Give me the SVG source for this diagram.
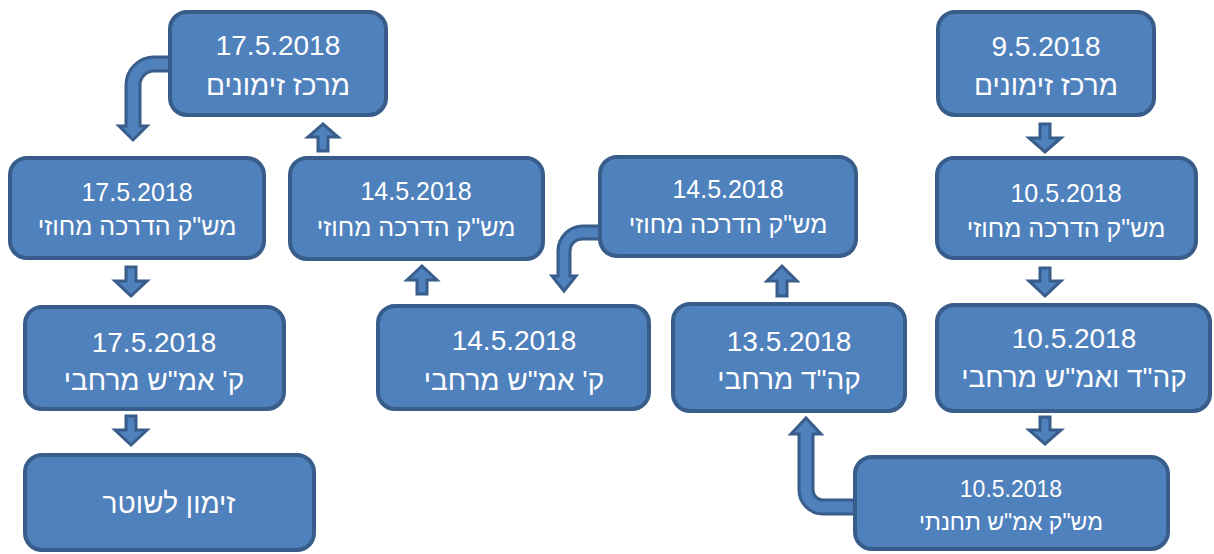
<svg xmlns="http://www.w3.org/2000/svg" width="1214" height="554" viewBox="0 0 1214 554">
<style>
.box{fill:#4F81BD;stroke:#385D8A;stroke-width:4}
.arr{fill:#4F81BD;stroke:#385D8A;stroke-width:3;stroke-linejoin:miter}
text{font-family:"Liberation Sans",Arial,sans-serif;fill:#FFFFFF;text-anchor:middle}
.l{font-size:28px}
.m{font-size:25px}
.s{font-size:23px}
</style>
<rect width="1214" height="554" fill="#FFFFFF"/>
<g id="connectors">
<path class="arr" d="M175,57 H154 A28,28 0 0 0 126,85 V126 H119 L133,140 L147,126 H140 V85 A14,14 0 0 1 154,71 H175 Z"/>
<path class="arr" d="M605,226 H583 A25,25 0 0 0 558,251 V276 H552 L564,291 L576,276 H570 V251 A12,12 0 0 1 582,239 H605 Z"/>
<path class="arr" d="M860,514 H823 A24,24 0 0 1 799,490 V434 H791 L806,418 L821,434 H813 V490 A10,10 0 0 0 823,500 H860 Z"/>
<path class="arr" d="M1040,124 V138 H1029 L1045,152 L1061,138 H1050 V124 Z"/>
<path class="arr" d="M1040,268 V281 H1029 L1045,296 L1061,281 H1050 V268 Z"/>
<path class="arr" d="M1040,417 V430 H1029 L1045,444 L1061,430 H1050 V417 Z"/>
<path class="arr" d="M126,267 V281 H115 L131,296 L147,281 H136 V267 Z"/>
<path class="arr" d="M126,416 V430 H115 L131,445 L147,430 H136 V416 Z"/>
<path class="arr" d="M417,294 V280 H407 L422,266 L437,280 H427 V294 Z"/>
<path class="arr" d="M777,296 V281 H767 L782,266 L797,281 H787 V296 Z"/>
<path class="arr" d="M318,151 V137 H308 L323,124 L338,137 H328 V151 Z"/>
</g>
<g id="n1"><rect class="box" x="170" y="12" width="216" height="103" rx="17"/><text class="l" x="278" y="55">17.5.2018</text><text class="l" x="278" y="95" direction="rtl">מרכז זימונים</text></g>
<g id="n2"><rect class="box" x="938" y="12" width="216" height="103" rx="17"/><text class="l" x="1046" y="56">9.5.2018</text><text class="l" x="1046" y="95" direction="rtl">מרכז זימונים</text></g>
<g id="n3"><rect class="box" x="10" y="158" width="254" height="100" rx="17"/><text class="m" x="137" y="201">17.5.2018</text><text class="m" x="137" y="235" direction="rtl">מש"ק הדרכה מחוזי</text></g>
<g id="n4"><rect class="box" x="290" y="158" width="253" height="101" rx="17"/><text class="m" x="416" y="200">14.5.2018</text><text class="m" x="416" y="236" direction="rtl">מש"ק הדרכה מחוזי</text></g>
<g id="n5"><rect class="box" x="600" y="157" width="256" height="99" rx="17"/><text class="m" x="728" y="198">14.5.2018</text><text class="m" x="728" y="233" direction="rtl">מש"ק הדרכה מחוזי</text></g>
<g id="n6"><rect class="box" x="937" y="158" width="259" height="100" rx="17"/><text class="m" x="1066" y="202">10.5.2018</text><text class="m" x="1066" y="237" direction="rtl">מש"ק הדרכה מחוזי</text></g>
<g id="n7"><rect class="box" x="25" y="307" width="259" height="102" rx="17"/><text class="l" x="154" y="352">17.5.2018</text><text class="l" x="154" y="390" direction="rtl">ק' אמ"ש מרחבי</text></g>
<g id="n8"><rect class="box" x="378" y="306" width="271" height="103" rx="17"/><text class="l" x="514" y="350">14.5.2018</text><text class="l" x="514" y="390" direction="rtl">ק' אמ"ש מרחבי</text></g>
<g id="n9"><rect class="box" x="673" y="304" width="232" height="107" rx="17"/><text class="l" x="789" y="351">13.5.2018</text><text class="l" x="789" y="389" direction="rtl">קה"ד מרחבי</text></g>
<g id="n10"><rect class="box" x="937" y="305" width="273" height="106" rx="17"/><text class="l" x="1074" y="348">10.5.2018</text><text class="l" x="1074" y="387" direction="rtl">קה"ד ואמ"ש מרחבי</text></g>
<g id="n11"><rect class="box" x="25" y="455" width="289" height="95" rx="17"/><text class="l" x="169" y="513" direction="rtl">זימון לשוטר</text></g>
<g id="n12"><rect class="box" x="855" y="457" width="313" height="92" rx="17"/><text class="s" x="1011" y="497">10.5.2018</text><text class="s" x="1011" y="530" direction="rtl">מש"ק אמ"ש תחנתי</text></g>
</svg>
